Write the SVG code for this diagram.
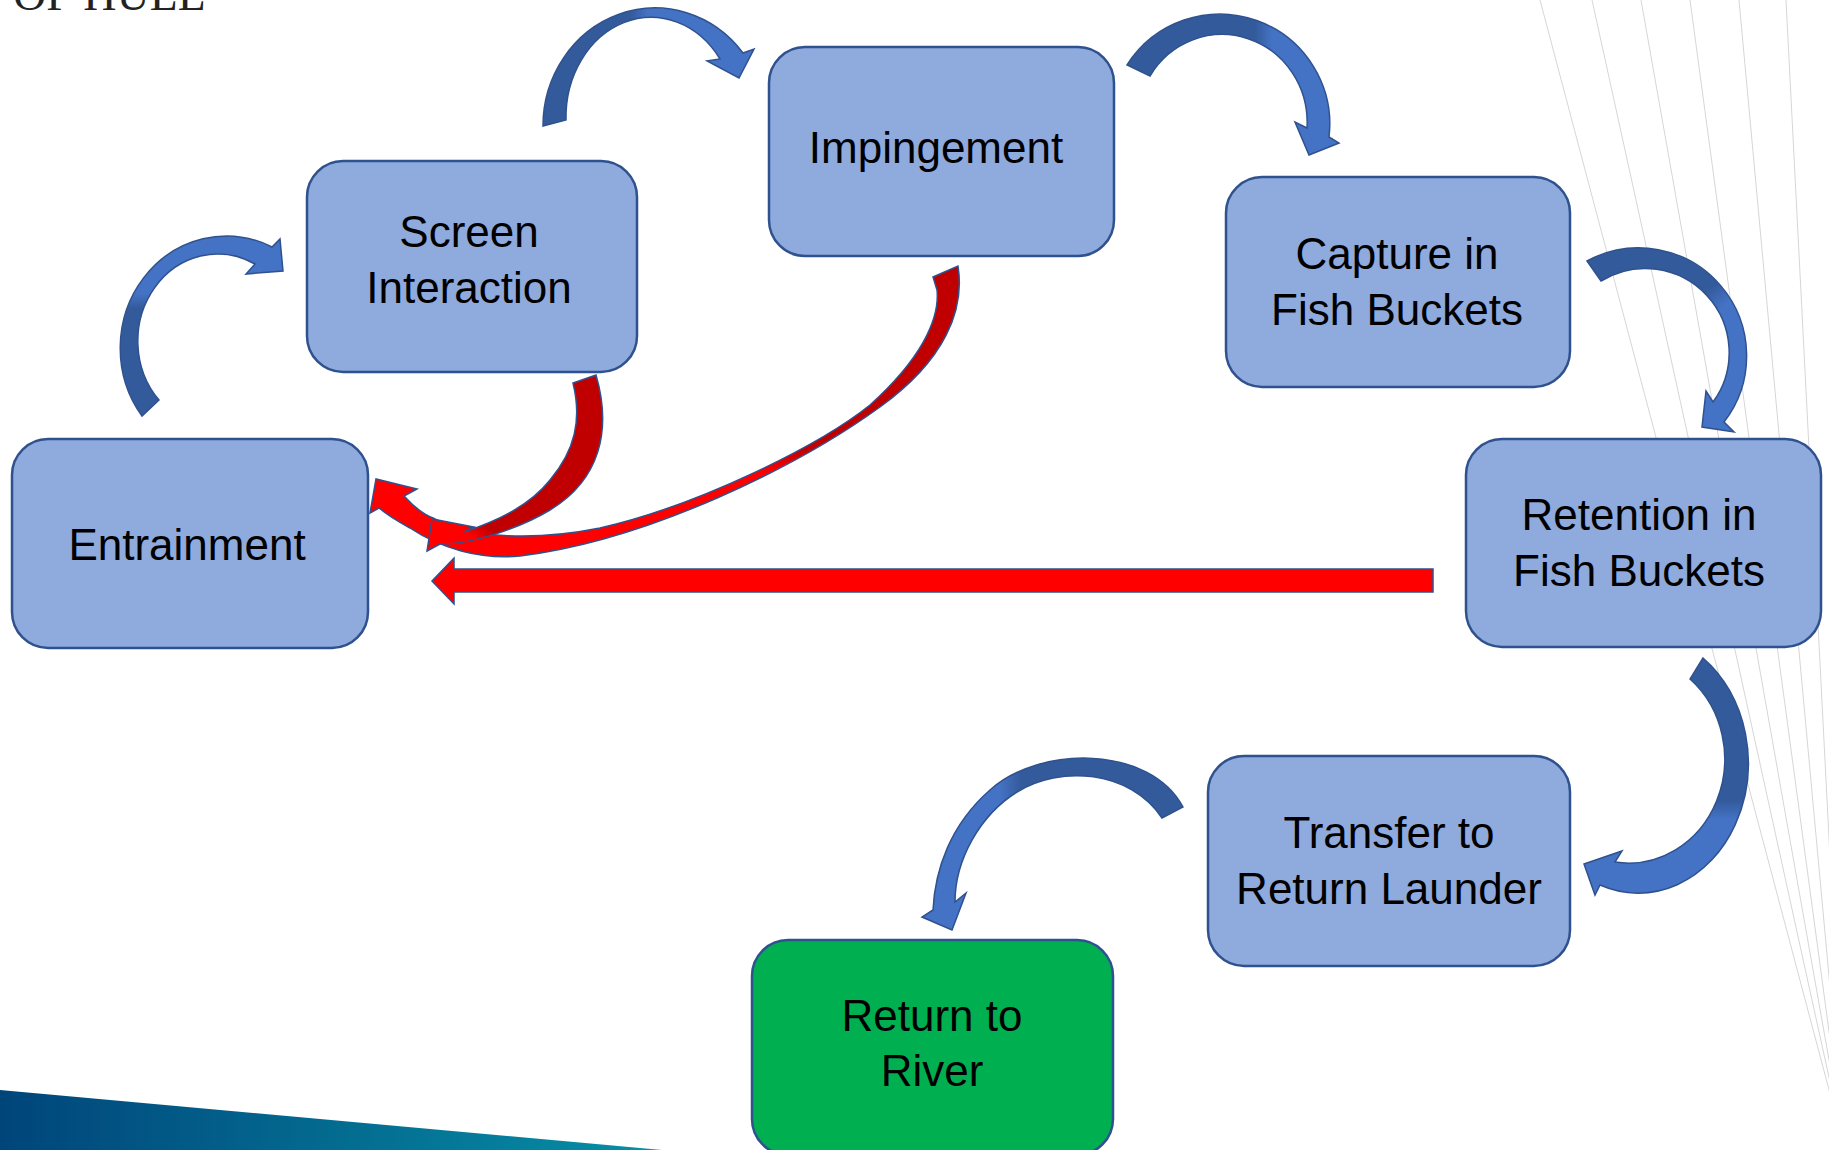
<svg xmlns="http://www.w3.org/2000/svg" width="1829" height="1150" viewBox="0 0 1829 1150">
<defs>
<style>
.node rect{fill:#8FAADC;stroke:#2F528F;stroke-width:2.5}
.node.green rect{fill:#00B050}
.node text{font-family:"Liberation Sans",Arial,sans-serif;font-size:44px;fill:#000;text-anchor:middle}
.arr{stroke:#2F528F;stroke-width:1.5;stroke-linejoin:miter}
.bgline{stroke:#D6D6D6;stroke-width:1;fill:none}
</style>
<linearGradient id="band" x1="0" y1="0" x2="1" y2="0">
<stop offset="0" stop-color="#00457A"/><stop offset="1" stop-color="#0790A6"/>
</linearGradient>
<linearGradient id="gA1" gradientUnits="userSpaceOnUse" x1="0" y1="420" x2="0" y2="240">
<stop offset="0" stop-color="#335A9B"/><stop offset="0.62" stop-color="#335A9B"/><stop offset="0.7" stop-color="#4472C4"/><stop offset="1" stop-color="#4472C4"/>
</linearGradient>
<linearGradient id="gA2" gradientUnits="userSpaceOnUse" x1="540" y1="0" x2="755" y2="0">
<stop offset="0" stop-color="#335A9B"/><stop offset="0.42" stop-color="#335A9B"/><stop offset="0.5" stop-color="#4472C4"/><stop offset="1" stop-color="#4472C4"/>
</linearGradient>
<linearGradient id="gA3" gradientUnits="userSpaceOnUse" x1="1127" y1="0" x2="1340" y2="0">
<stop offset="0" stop-color="#335A9B"/><stop offset="0.6" stop-color="#335A9B"/><stop offset="0.68" stop-color="#4472C4"/><stop offset="1" stop-color="#4472C4"/>
</linearGradient>
<linearGradient id="gA4" gradientUnits="userSpaceOnUse" x1="1600" y1="250" x2="1740" y2="420">
<stop offset="0" stop-color="#335A9B"/><stop offset="0.45" stop-color="#335A9B"/><stop offset="0.55" stop-color="#4472C4"/><stop offset="1" stop-color="#4472C4"/>
</linearGradient>
<linearGradient id="gA5" gradientUnits="userSpaceOnUse" x1="0" y1="658" x2="0" y2="895">
<stop offset="0" stop-color="#335A9B"/><stop offset="0.6" stop-color="#335A9B"/><stop offset="0.68" stop-color="#4472C4"/><stop offset="1" stop-color="#4472C4"/>
</linearGradient>
<linearGradient id="gA6" gradientUnits="userSpaceOnUse" x1="1183" y1="0" x2="922" y2="0">
<stop offset="0" stop-color="#335A9B"/><stop offset="0.62" stop-color="#335A9B"/><stop offset="0.7" stop-color="#4472C4"/><stop offset="1" stop-color="#4472C4"/>
</linearGradient>
<linearGradient id="gR2" gradientUnits="userSpaceOnUse" x1="0" y1="266" x2="0" y2="560">
<stop offset="0" stop-color="#C00000"/><stop offset="0.62" stop-color="#C00000"/><stop offset="0.7" stop-color="#FF0000"/><stop offset="1" stop-color="#FF0000"/>
</linearGradient>
<linearGradient id="gR1" gradientUnits="userSpaceOnUse" x1="590" y1="380" x2="430" y2="540">
<stop offset="0" stop-color="#C00000"/><stop offset="0.78" stop-color="#C00000"/><stop offset="0.86" stop-color="#FF0000"/><stop offset="1" stop-color="#FF0000"/>
</linearGradient>
</defs>
<rect width="1829" height="1150" fill="#FFFFFF"/>
<g id="background">
<line class="bgline" x1="1540" y1="0" x2="1845" y2="1150"/>
<line class="bgline" x1="1592" y1="0" x2="1845" y2="1150"/>
<line class="bgline" x1="1641" y1="0" x2="1845" y2="1150"/>
<line class="bgline" x1="1690" y1="0" x2="1845" y2="1150"/>
<line class="bgline" x1="1739" y1="0" x2="1845" y2="1150"/>
<line class="bgline" x1="1786" y1="0" x2="1845" y2="1150"/>
<polygon points="0,1090 662,1150 0,1150" fill="url(#band)"/>
<text x="13" y="10" font-family="Liberation Serif,serif" font-size="46" fill="#222">OF HULL</text>
</g>
<g id="nodes">
<g id="n-impingement" class="node"><rect x="769" y="47" width="345" height="209" rx="36"/><text x="936" y="163">Impingement</text></g>
<g id="n-screen" class="node"><rect x="307" y="161" width="330" height="211" rx="36"/><text x="469" y="247">Screen</text><text x="469" y="303">Interaction</text></g>
<g id="n-capture" class="node"><rect x="1226" y="177" width="344" height="210" rx="36"/><text x="1397" y="269">Capture in</text><text x="1397" y="325">Fish Buckets</text></g>
<g id="n-retention" class="node"><rect x="1466" y="439" width="355" height="208" rx="36"/><text x="1639" y="530">Retention in</text><text x="1639" y="586">Fish Buckets</text></g>
<g id="n-entrainment" class="node"><rect x="12" y="439" width="356" height="209" rx="36"/><text x="187" y="560">Entrainment</text></g>
<g id="n-transfer" class="node"><rect x="1208" y="756" width="362" height="210" rx="36"/><text x="1389" y="848">Transfer to</text><text x="1389" y="904">Return Launder</text></g>
<g id="n-river" class="node green"><rect x="752" y="940" width="361" height="215" rx="36"/><text x="932" y="1031">Return to</text><text x="932" y="1086">River</text></g>
</g>
<g id="connectors">
<path class="arr" fill="url(#gA1)" d="M142,416 A106,112 0 0 1 272,247 L280,239 L283,271 L246,274 L255,264 A80,87 0 0 0 159,400 Z"/>
<path class="arr" fill="url(#gA2)" d="M543,126 A112,118 0 0 1 743,53 L754,49 L739,78 L707,61 L720,59 A85,100 0 0 0 566,120 Z"/>
<path class="arr" fill="url(#gA3)" d="M1127,65 A110,110 0 0 1 1329,137 L1339,143 L1309,155 L1295,122 L1307,128 A85,88 0 0 0 1150,76 Z"/>
<path class="arr" fill="url(#gA4)" d="M1587,261 A108,108 0 0 1 1724,422 L1734,432 L1702,427 L1706,391 L1713,402 A84,84 0 0 0 1601,281 Z"/>
<path class="arr" fill="url(#gA5)" d="M1703,658 A110,130 0 0 1 1600,885 L1595,895 L1584,864 L1622,851 L1615,862 A96,104 0 0 0 1690,679 Z"/>
<path class="arr" fill="url(#gA6)" d="M1183,807 C1150,745 1040,745 990,790 C950,825 935,870 933,910 L922,917 L952,930 L966,893 L955,902 C955,860 980,815 1017,792 C1060,765 1130,770 1162,818 Z"/>
<path class="arr" fill="#FF0000" d="M1433,569 L454,569 L454,558 L432,581 L454,604 L454,592 L1433,592 Z"/>
<path class="arr" fill="url(#gR2)" d="M958,266 C965,310 945,360 880,407 C800,465 650,540 520,556 C480,560 440,548 410,528 C395,520 385,513 379,508 L370,513 L376,479 L417,489 L404,496 C415,508 425,515 433,518 C470,540 540,540 600,528 C700,505 820,445 870,405 C920,360 940,320 937,290 L933,277 Z"/>
<path class="arr" fill="url(#gR1)" d="M596,375 C612,430 600,480 550,510 C520,528 470,545 440,544 L427,551 L432,519 L474,527 L464,532 C500,520 530,505 550,480 C575,450 582,420 573,383 Z"/>
</g>
</svg>
